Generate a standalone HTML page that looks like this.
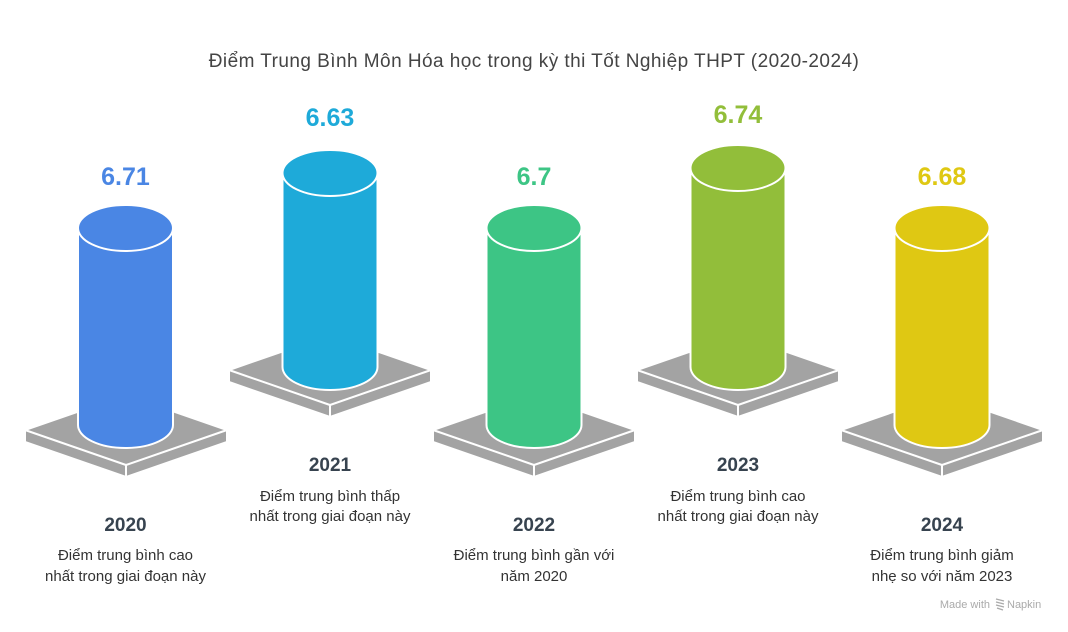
<!DOCTYPE html>
<html><head><meta charset="utf-8"><style>
html,body{margin:0;padding:0;background:#fff;}
svg{display:block;font-family:"Liberation Sans",sans-serif;}
</style></head><body>
<svg width="1068" height="632" viewBox="0 0 1068 632" xmlns="http://www.w3.org/2000/svg">
<text x="534" y="67" text-anchor="middle" font-size="19" letter-spacing="0.45" fill="#444">Điểm Trung Bình Môn Hóa học trong kỳ thi Tốt Nghiệp THPT (2020-2024)</text>
<g stroke="#fff" stroke-width="2" stroke-linejoin="round" fill="#a3a3a3">
<path d="M25,430 L126,395 L227,430 L126,465 Z M25,430 L126,465 L126,477 L25,442 Z M227,430 L126,465 L126,477 L227,442 Z"/>
<path d="M229,370 L330,335 L431,370 L330,405 Z M229,370 L330,405 L330,417 L229,382 Z M431,370 L330,405 L330,417 L431,382 Z"/>
<path d="M433,430 L534,395 L635,430 L534,465 Z M433,430 L534,465 L534,477 L433,442 Z M635,430 L534,465 L534,477 L635,442 Z"/>
<path d="M637,370 L738,335 L839,370 L738,405 Z M637,370 L738,405 L738,417 L637,382 Z M839,370 L738,405 L738,417 L839,382 Z"/>
<path d="M841,430 L942,395 L1043,430 L942,465 Z M841,430 L942,465 L942,477 L841,442 Z M1043,430 L942,465 L942,477 L1043,442 Z"/>
</g>
<g stroke="#fff" stroke-width="2">
<path fill="#4a86e4" d="M78,228 L78,425 A47.5,23 0 0 0 173,425 L173,228 Z"/>
<ellipse cx="125.5" cy="228" rx="47.5" ry="23" fill="#4a86e4"/>
<path fill="#1eaad9" d="M282.5,173 L282.5,367 A47.5,23 0 0 0 377.5,367 L377.5,173 Z"/>
<ellipse cx="330" cy="173" rx="47.5" ry="23" fill="#1eaad9"/>
<path fill="#3dc585" d="M486.5,228 L486.5,425 A47.5,23 0 0 0 581.5,425 L581.5,228 Z"/>
<ellipse cx="534" cy="228" rx="47.5" ry="23" fill="#3dc585"/>
<path fill="#92be3a" d="M690.5,168 L690.5,367 A47.5,23 0 0 0 785.5,367 L785.5,168 Z"/>
<ellipse cx="738" cy="168" rx="47.5" ry="23" fill="#92be3a"/>
<path fill="#dfc813" d="M894.5,228 L894.5,425 A47.5,23 0 0 0 989.5,425 L989.5,228 Z"/>
<ellipse cx="942" cy="228" rx="47.5" ry="23" fill="#dfc813"/>
</g>
<g font-size="25" font-weight="bold" text-anchor="middle">
<text x="125.5" y="185" fill="#4a86e4">6.71</text>
<text x="330" y="126" fill="#1eaad9">6.63</text>
<text x="534" y="185" fill="#3dc585">6.7</text>
<text x="738" y="123" fill="#92be3a">6.74</text>
<text x="942" y="185" fill="#dfc813">6.68</text>
</g>
<g font-size="19" font-weight="bold" text-anchor="middle" fill="#37434f">
<text x="125.5" y="531">2020</text>
<text x="330" y="471">2021</text>
<text x="534" y="531">2022</text>
<text x="738" y="471">2023</text>
<text x="942" y="531">2024</text>
</g>
<g font-size="15" text-anchor="middle" fill="#333">
<text x="125.5" y="560">Điểm trung bình cao</text>
<text x="125.5" y="581">nhất trong giai đoạn này</text>
<text x="330" y="501">Điểm trung bình thấp</text>
<text x="330" y="521">nhất trong giai đoạn này</text>
<text x="534" y="560">Điểm trung bình gần với</text>
<text x="534" y="581">năm 2020</text>
<text x="738" y="501">Điểm trung bình cao</text>
<text x="738" y="521">nhất trong giai đoạn này</text>
<text x="942" y="560">Điểm trung bình giảm</text>
<text x="942" y="581">nhẹ so với năm 2023</text>
</g>
<text x="990" y="608" font-size="11" fill="#aaa" text-anchor="end">Made with</text>
<path d="M996,599 l8,2 M996,602 l8,2 M996,605 l8,2 M997,608 l6,2" stroke="#aaa" stroke-width="1.3"/>
<text x="1007" y="608" font-size="11" fill="#aaa">Napkin</text>
</svg>
</body></html>
